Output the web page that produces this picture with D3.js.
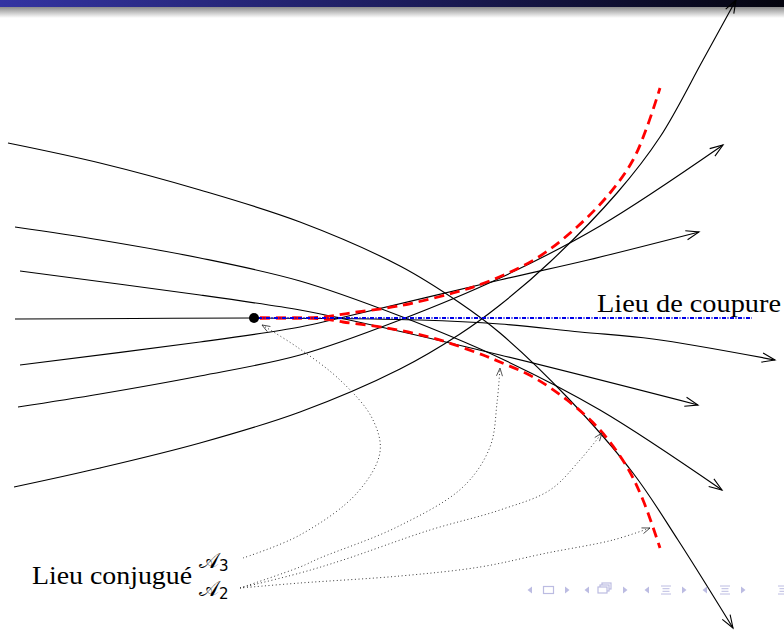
<!DOCTYPE html>
<html>
<head>
<meta charset="utf-8">
<script src="https://cdn.jsdelivr.net/npm/d3@7"></script>
<style>
  html, body { margin: 0; padding: 0; background: #fff; }
  svg { display: block; }
</style>
</head>
<body>
<svg id="fig" width="784" height="631"></svg>
<script>
// Geodesics leaving the conjugate point O = (0,0); x to the right, y upward.
const geodesicA = [[-246,175],[-154,155],[-54,128],[46,96],[146,52],[206,15],[246,-15],[313,-79],[379,-155],[424,-222],[479,-310]];
const geodesicB = [[-239,91],[-154,78],[-54,60],[46,37],[146,2],[246,-40],[346,-92],[468,-172]];
const geodesicC = [[-234,47],[-54,23],[46,8],[86,0],[246,-37],[444,-87]];
const geodesicD = [[-239,-1],[-120,-0.5],[0,0],[166,-2],[246,-6],[326,-14],[399,-21],[521,-42]];
const geodesicE = [[-234,-47],[-54,-24],[46,-9],[86,0],[246,38],[334,58],[445,86]];
const geodesicF = [[-236,-89],[-154,-76],[-54,-58],[46,-37],[146,-2],[246,40],[346,92],[469,173]];
const geodesicG = [[-240,-169],[-154,-150],[-54,-125],[46,-94],[146,-51],[206,-16],[246,13],[296,56],[363,125],[406,181],[449,258],[482,318]];
const geodesics = [geodesicA, geodesicB, geodesicC, geodesicD, geodesicE, geodesicF, geodesicG];

// Cut locus: a segment of the symmetry axis
const cutLocus = [[4,0],[498,0]];

// Conjugate locus: two branches meeting at a cusp on the axis
const conjugateUpper = [[6,0],[40,0],[70,1],[96,5],[133,10],[159,15],[199,25],[233,36],[283,60],[323,91],[356,125],[379,158],[393,191],[406,230]];
const conjugateLower = [[6,0],[40,0],[70,-1],[89,-4],[133,-10],[179,-20],[229,-37],[246,-44],[279,-59],[313,-82],[346,-112],[373,-149],[389,-182],[406,-230]];

const conjugatePoint = [0,0];

// Dotted pointers from the labels A3 / A2 to the conjugate locus
const pointerA3  = [[-11,-240],[46,-217],[103,-175],[126,-134],[118,-100],[86,-62],[43,-29],[8,-7]];
const pointerA2a = [[-14,-270],[46,-249],[66,-240],[143,-209],[209,-169],[236,-129],[243,-85],[246,-50]];
const pointerA2b = [[-14,-270],[46,-255],[89,-242],[176,-212],[246,-192],[296,-172],[326,-142],[348,-115]];
const pointerA2c = [[-14,-270],[46,-265],[146,-258],[226,-249],[293,-235],[359,-222],[396,-210]];
const pointers = [pointerA3, pointerA2a, pointerA2b, pointerA2c];

const cutLabel = "Lieu de coupure";
const conjLabel = "Lieu conjugué";
const setLabels = [{ letter: "\u{1D49C}", sub: "3" }, { letter: "\u{1D49C}", sub: "2" }];

const W = 784, H = 631;
const svg = d3.select("#fig");

const x = d3.scaleLinear().domain([-254, 530]).range([0, W]);
const y = d3.scaleLinear().domain([-313, 318]).range([H, 0]);

const line = d3.line()
  .x(d => x(d[0]))
  .y(d => y(d[1]))
  .curve(d3.curveCatmullRom.alpha(0.5));

const defs = svg.append("defs");

// Slide header bar with its soft shadow
const hg = defs.append("linearGradient").attr("id", "headGrad").attr("x1", 0).attr("x2", 1).attr("y1", 0).attr("y2", 0);
hg.append("stop").attr("offset", 0).attr("stop-color", "#3434a2");
hg.append("stop").attr("offset", 0.5).attr("stop-color", "#1d1d5e");
hg.append("stop").attr("offset", 1).attr("stop-color", "#04040e");
const sg = defs.append("linearGradient").attr("id", "shadowGrad").attr("x1", 0).attr("x2", 0).attr("y1", 0).attr("y2", 1);
sg.append("stop").attr("offset", 0).attr("stop-color", "#8c8c8c");
sg.append("stop").attr("offset", 1).attr("stop-color", "#ffffff");

svg.append("rect").attr("x", 0).attr("y", 7).attr("width", W).attr("height", 11).attr("fill", "url(#shadowGrad)");
svg.append("rect").attr("x", 0).attr("y", 0).attr("width", W).attr("height", 7).attr("fill", "url(#headGrad)");

// Arrow heads
defs.append("marker")
  .attr("id", "arrowOpen")
  .attr("markerUnits", "userSpaceOnUse")
  .attr("viewBox", "-14 -7 16 14")
  .attr("markerWidth", 16).attr("markerHeight", 14)
  .attr("refX", 0).attr("refY", 0)
  .attr("orient", "auto")
  .append("path")
  .attr("d", "M-13,-4.6 L0,0 L-13,4.6")
  .attr("fill", "none").attr("stroke", "#000").attr("stroke-width", 1.1);

defs.append("marker")
  .attr("id", "arrowSmall")
  .attr("markerUnits", "userSpaceOnUse")
  .attr("viewBox", "-10 -5 12 10")
  .attr("markerWidth", 12).attr("markerHeight", 10)
  .attr("refX", 0).attr("refY", 0)
  .attr("orient", "auto")
  .append("path")
  .attr("d", "M-8,-3 L0,0 L-8,3")
  .attr("fill", "none").attr("stroke", "#333").attr("stroke-width", 0.8);

// Geodesics
svg.append("g").selectAll("path")
  .data(geodesics)
  .join("path")
  .attr("d", line)
  .attr("fill", "none")
  .attr("stroke", "#000")
  .attr("stroke-width", 1.15)
  .attr("marker-end", "url(#arrowOpen)");

// Conjugate locus (red dashed)
svg.append("g").selectAll("path")
  .data([conjugateUpper, conjugateLower])
  .join("path")
  .attr("d", line)
  .attr("fill", "none")
  .attr("stroke", "#ff0000")
  .attr("stroke-width", 2.8)
  .attr("stroke-dasharray", "10,6");

// Cut locus (blue dash-dot)
svg.append("path")
  .datum(cutLocus)
  .attr("d", d3.line().x(d => x(d[0])).y(d => y(d[1])))
  .attr("fill", "none")
  .attr("stroke", "#0000e6")
  .attr("stroke-width", 2)
  .attr("stroke-dasharray", "4,1.5,1,1.5");

// Conjugate point
svg.append("circle")
  .attr("cx", x(conjugatePoint[0])).attr("cy", y(conjugatePoint[1]))
  .attr("r", 5).attr("fill", "#000");

// Dotted pointers
svg.append("g").selectAll("path")
  .data(pointers)
  .join("path")
  .attr("d", line)
  .attr("fill", "none")
  .attr("stroke", "#222")
  .attr("stroke-width", 0.9)
  .attr("stroke-dasharray", "1,2.6")
  .attr("marker-end", "url(#arrowSmall)");

// Labels
const serif = "'Liberation Serif', 'DejaVu Serif', serif";
svg.append("text")
  .attr("x", 597).attr("y", 312)
  .attr("font-family", serif).attr("font-size", 25)
  .attr("textLength", 184).attr("lengthAdjust", "spacingAndGlyphs")
  .text(cutLabel);

svg.append("text")
  .attr("x", 32).attr("y", 584)
  .attr("font-family", serif).attr("font-size", 25)
  .attr("textLength", 160).attr("lengthAdjust", "spacingAndGlyphs")
  .text(conjLabel);

setLabels.forEach((s, i) => {
  const base = i === 0 ? 568 : 596;
  const t = svg.append("text")
    .attr("x", 199).attr("y", base)
    .attr("font-family", "'DejaVu Serif', 'Noto Sans', serif")
    .attr("font-size", 21);
  t.append("tspan").text(s.letter);
  t.append("tspan").attr("dy", 3).attr("font-size", 15)
    .attr("font-family", "'DejaVu Sans', sans-serif").text(s.sub);
});

// Beamer navigation symbols
const nav = svg.append("g").attr("fill", "none").attr("stroke", "#bcbce2").attr("stroke-width", 1.2);
const navFill = "#bcbce2";
const navY = 590;
function triLeft(cx) { nav.append("path").attr("d", `M${cx+2},${navY-3.5} L${cx-2.5},${navY} L${cx+2},${navY+3.5}Z`).attr("fill", navFill).attr("stroke", "none"); }
function triRight(cx) { nav.append("path").attr("d", `M${cx-2},${navY-3.5} L${cx+2.5},${navY} L${cx-2},${navY+3.5}Z`).attr("fill", navFill).attr("stroke", "none"); }
function lines(cx) {
  [-4, -1.3, 1.3, 4].forEach((dy, k) => {
    nav.append("line").attr("x1", cx - (k % 3 === 0 ? 5 : 3.5)).attr("x2", cx + (k % 3 === 0 ? 5 : 3.5))
      .attr("y1", navY + dy).attr("y2", navY + dy).attr("stroke-width", 1);
  });
}
triLeft(530); nav.append("rect").attr("x", 543.5).attr("y", navY - 3.5).attr("width", 10).attr("height", 7); triRight(567);
triLeft(587);
nav.append("rect").attr("x", 602).attr("y", navY - 7).attr("width", 9).attr("height", 6).attr("fill", "#fff");
nav.append("rect").attr("x", 600).attr("y", navY - 5).attr("width", 9).attr("height", 6).attr("fill", "#fff");
nav.append("rect").attr("x", 598).attr("y", navY - 3).attr("width", 9).attr("height", 6).attr("fill", "#fff");
triRight(625);
triLeft(647); lines(666); triRight(684);
triLeft(705); lines(725); triRight(743);
lines(783);
</script>
</body>
</html>
